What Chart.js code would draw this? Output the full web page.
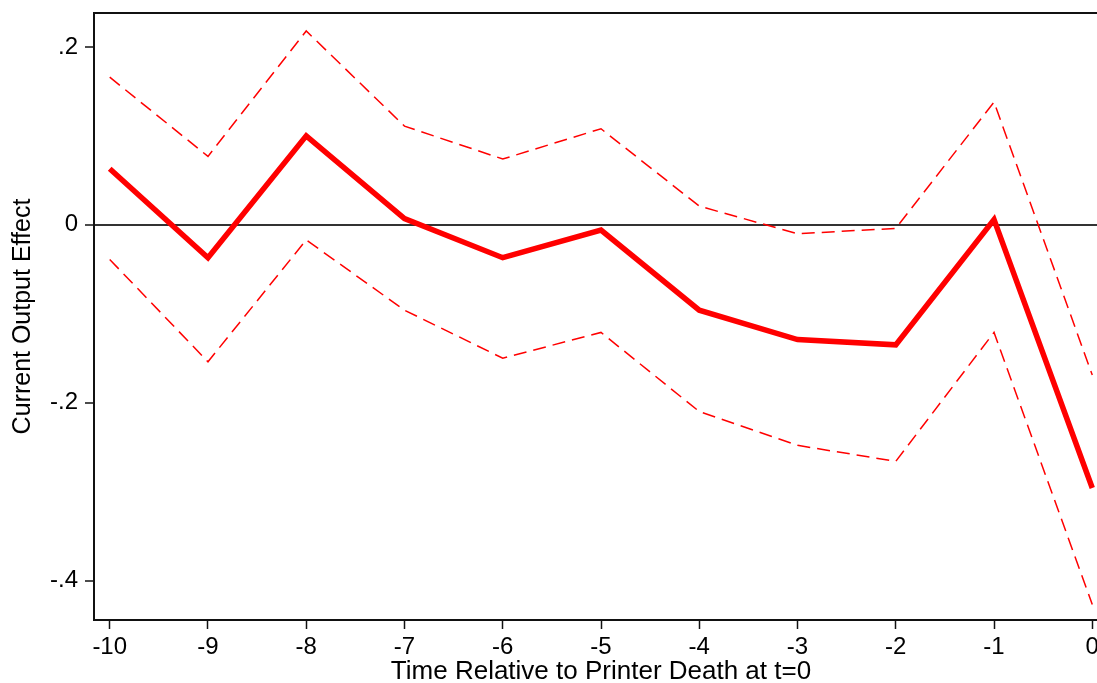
<!DOCTYPE html>
<html>
<head>
<meta charset="utf-8">
<script src="https://cdn.jsdelivr.net/npm/chart.js@4/dist/chart.umd.min.js"></script>
<style>
  html, body { margin: 0; padding: 0; background: #fff; overflow: hidden; }
  #wrap { width: 1108px; height: 683px; position: relative; }
</style>
</head>
<body>
<div id="wrap"><canvas id="chart"></canvas></div>
<script>
// Données
const periods = [-10, -9, -8, -7, -6, -5, -4, -3, -2, -1, 0];
const estimate = [0.063, -0.037, 0.100, 0.007, -0.037, -0.006, -0.096, -0.129, -0.135, 0.006, -0.296];
const upperCI = [0.166, 0.077, 0.218, 0.111, 0.074, 0.108, 0.021, -0.010, -0.004, 0.138, -0.169];
const lowerCI = [-0.039, -0.154, -0.017, -0.096, -0.150, -0.121, -0.210, -0.248, -0.266, -0.121, -0.427];

const xTicks = [-10, -9, -8, -7, -6, -5, -4, -3, -2, -1, 0];
const yTicks = [-0.4, -0.2, 0, 0.2];
const yTickLabels = ['-.4', '-.2', '0', '.2'];

const xTitle = 'Time Relative to Printer Death at t=0';
const yTitle = 'Current Output Effect';

// Fonction pour construire les points {x, y}
function points(values) {
  return periods.map((p, i) => ({ x: p, y: values[i] }));
}

// Cadre du haut (le graphique d'origine est encadré)
const framePlugin = {
  id: 'frame',
  afterDraw(chart) {
    const { ctx, chartArea } = chart;
    ctx.save();
    ctx.strokeStyle = '#111';
    ctx.lineWidth = 2;
    ctx.beginPath();
    ctx.moveTo(chartArea.left, chartArea.top);
    ctx.lineTo(chartArea.right, chartArea.top);
    ctx.lineTo(chartArea.right, chartArea.bottom);
    ctx.stroke();
    ctx.restore();
  }
};

const font = { family: "'Liberation Sans', Arial, sans-serif" };

new Chart(document.getElementById('chart'), {
  type: 'line',
  data: {
    datasets: [
      {
        data: points(upperCI),
        borderColor: '#ff0000',
        borderWidth: 1.5,
        borderDash: [13, 7],
        pointRadius: 0,
        fill: false
      },
      {
        data: points(lowerCI),
        borderColor: '#ff0000',
        borderWidth: 1.5,
        borderDash: [13, 7],
        pointRadius: 0,
        fill: false
      },
      {
        data: points(estimate),
        borderColor: '#ff0000',
        borderWidth: 5.5,
        pointRadius: 0,
        fill: false
      }
    ]
  },
  options: {
    responsive: true,
    maintainAspectRatio: false,
    animation: false,
    layout: { padding: { top: 13, right: 0, bottom: 0, left: 0 } },
    plugins: {
      legend: { display: false },
      tooltip: { enabled: false }
    },
    scales: {
      x: {
        type: 'linear',
        min: -10.16,
        max: 0.16,
        afterBuildTicks: scale => { scale.ticks = xTicks.map(v => ({ value: v })); },
        afterFit: scale => {
          scale.height = 63;
          scale.paddingLeft = 0;
          scale.paddingRight = 0;
        },
        ticks: {
          color: '#000',
          padding: 4,
          maxRotation: 0,
          font: { ...font, size: 24 },
          callback: v => String(v)
        },
        grid: {
          drawOnChartArea: false,
          tickLength: 9,
          tickColor: '#111',
          tickWidth: 1.5
        },
        border: { color: '#111', width: 2 },
        title: {
          display: true,
          text: xTitle,
          color: '#000',
          font: { ...font, size: 26 },
          padding: { top: 0, bottom: -4 }
        }
      },
      y: {
        type: 'linear',
        min: -0.4444,
        max: 0.2382,
        afterBuildTicks: scale => { scale.ticks = yTicks.map(v => ({ value: v })); },
        afterFit: scale => {
          scale.width = 94;
          scale.paddingTop = 0;
          scale.paddingBottom = 0;
        },
        ticks: {
          color: '#000',
          padding: 7,
          font: { ...font, size: 24 },
          callback: (v, i) => yTickLabels[i]
        },
        grid: {
          drawOnChartArea: true,
          color: ctx => (ctx.tick && ctx.tick.value === 0 ? '#333' : 'rgba(0,0,0,0)'),
          lineWidth: 2,
          tickLength: 9,
          tickColor: '#111',
          tickWidth: 1.5
        },
        border: { color: '#111', width: 2 },
        title: {
          display: true,
          text: yTitle,
          color: '#000',
          font: { ...font, size: 25 },
          padding: { top: 8, bottom: 0 }
        }
      }
    }
  },
  plugins: [framePlugin]
});
</script>
</body>
</html>
